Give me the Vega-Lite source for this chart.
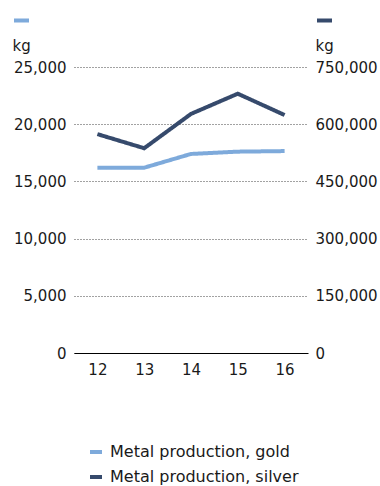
{
  "$schema": "https://vega.github.io/schema/vega-lite/v6.json",
  "width": 234,
  "height": 286,
  "autosize": {"type": "none"},
  "padding": {"left": 74, "top": 67, "right": 72, "bottom": 133},
  "config": {
    "view": {"stroke": null},
    "font": "DejaVu Sans",
    "axis": {"labelFontSize": 15, "labelColor": "#1a1a1a", "titleFontSize": 15, "titleFontWeight": "normal", "titleColor": "#1a1a1a", "ticks": false, "domain": false},
    "legend": {"padding": 0}
  },
  "data": {
    "values": [
      {"year": "12", "series": "Metal production, gold", "value": 16200},
      {"year": "13", "series": "Metal production, gold", "value": 16200},
      {"year": "14", "series": "Metal production, gold", "value": 17400},
      {"year": "15", "series": "Metal production, gold", "value": 17600},
      {"year": "16", "series": "Metal production, gold", "value": 17650},
      {"year": "12", "series": "Metal production, silver", "value": 574000},
      {"year": "13", "series": "Metal production, silver", "value": 537000},
      {"year": "14", "series": "Metal production, silver", "value": 627000},
      {"year": "15", "series": "Metal production, silver", "value": 680000},
      {"year": "16", "series": "Metal production, silver", "value": 624000}
    ]
  },
  "encoding": {
    "x": {
      "field": "year", "type": "ordinal",
      "scale": {"type": "point", "padding": 0.5},
      "axis": {"title": null, "labelAngle": 0, "domain": true, "domainColor": "#000", "domainWidth": 1.2, "labelPadding": 9, "grid": false, "zindex": 1}
    },
    "stroke": {
      "field": "series", "type": "nominal",
      "scale": {"domain": ["Metal production, gold", "Metal production, silver"], "range": ["#7eaadb", "#364a6c"]},
      "legend": {"title": null, "orient": "none", "legendX": 14, "legendY": 377, "direction": "vertical", "symbolType": "stroke", "symbolStrokeWidth": 4, "symbolSize": 144, "labelFontSize": 16, "labelLimit": 400, "labelColor": "#1a1a1a", "labelOffset": 6, "rowPadding": 9}
    }
  },
  "layer": [
    {
      "transform": [{"filter": "datum.series === 'Metal production, gold'"}],
      "mark": {"type": "line", "strokeWidth": 4},
      "encoding": {
        "y": {
          "field": "value", "type": "quantitative",
          "scale": {"domain": [0, 25000], "nice": false},
          "axis": {"orient": "left", "values": [0, 5000, 10000, 15000, 20000, 25000], "format": ",d", "labelPadding": 8, "grid": true, "gridDash": [1, 2], "gridColor": "#444", "gridWidth": 1, "title": "kg", "titleAngle": 0, "titleAlign": "left", "titleBaseline": "alphabetic", "titleX": -62, "titleY": -17}
        },
        "strokeDash": {
          "datum": "g", "type": "nominal",
          "scale": {"domain": ["g"], "range": [[1, 0]]},
          "legend": {"title": null, "orient": "none", "legendX": -62, "legendY": -56, "symbolType": "stroke", "symbolStrokeColor": "#7eaadb", "symbolStrokeWidth": 4, "symbolSize": 225, "labelExpr": "''", "labelFontSize": 8}
        }
      }
    },
    {
      "transform": [{"filter": "datum.series === 'Metal production, silver'"}],
      "mark": {"type": "line", "strokeWidth": 4},
      "encoding": {
        "y": {
          "field": "value", "type": "quantitative",
          "scale": {"domain": [0, 750000], "nice": false},
          "axis": {"orient": "right", "values": [0, 150000, 300000, 450000, 600000, 750000], "format": ",d", "labelPadding": 7, "grid": false, "title": "kg", "titleAngle": 0, "titleAlign": "left", "titleBaseline": "alphabetic", "titleX": 7, "titleY": -17}
        },
        "strokeDash": {
          "datum": "s", "type": "nominal",
          "scale": {"domain": ["s"], "range": [[1, 0]]},
          "legend": {"title": null, "orient": "none", "legendX": 241, "legendY": -56, "symbolType": "stroke", "symbolStrokeColor": "#364a6c", "symbolStrokeWidth": 4, "symbolSize": 225, "labelExpr": "''", "labelFontSize": 8}
        }
      }
    }
  ],
  "resolve": {"scale": {"y": "independent", "strokeDash": "independent"}, "axis": {"y": "independent"}, "legend": {"strokeDash": "independent"}}
}
